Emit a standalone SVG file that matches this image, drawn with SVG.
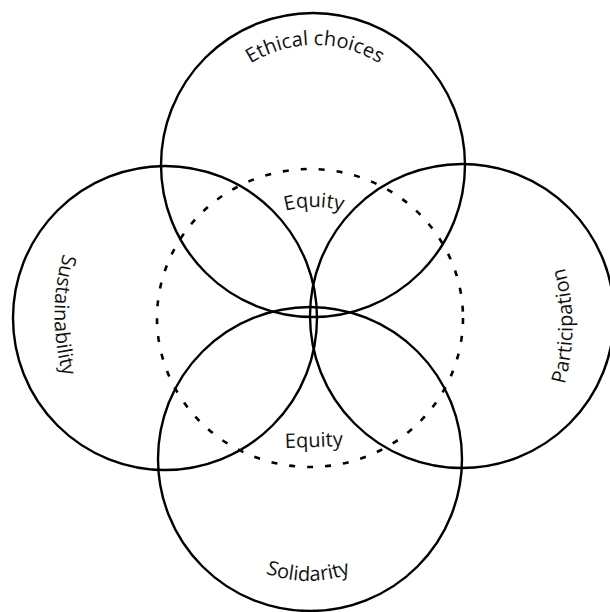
<svg xmlns="http://www.w3.org/2000/svg" width="610" height="612" viewBox="0 0 610 612">
  <style>
    .ring { fill: none; stroke: #000; stroke-width: 2.4; }
    .dash { fill: none; stroke: #000; stroke-width: 2.6; stroke-dasharray: 6 12; }
    .lbl { font-family: "Open Sans", "Noto Sans", "DejaVu Sans", sans-serif; font-size: 20px; fill: #111; }
  </style>
  <defs>
    <path id="p-top" d="M 195 165 A 120 120 0 0 1 435 165"/>
    <path id="p-bottom" d="M 186 459 A 122 122 0 0 0 430 459"/>
    <path id="p-left" d="M 84 205 A 220 220 0 0 0 84 425"/>
    <path id="p-right" d="M 543 436 A 220 220 0 0 0 543 216"/>
    <path id="p-eq-top" d="M 203 318 A 111 111 0 0 1 425 318"/>
  </defs>
  <rect width="610" height="612" fill="#fff"/>
  <g id="node-ethical-choices">
    <circle class="ring" cx="313" cy="165" r="152"/>
    <text class="lbl" text-anchor="middle"><textPath href="#p-top" startOffset="50%">Ethical choices</textPath></text>
  </g>
  <g id="node-sustainability">
    <circle class="ring" cx="165" cy="318" r="152"/>
    <text class="lbl" text-anchor="middle"><textPath href="#p-left" startOffset="50%">Sustainability</textPath></text>
  </g>
  <g id="node-participation">
    <circle class="ring" cx="462" cy="316" r="152"/>
    <text class="lbl" text-anchor="middle"><textPath href="#p-right" startOffset="50%">Participation</textPath></text>
  </g>
  <g id="node-solidarity">
    <circle class="ring" cx="310" cy="459" r="152"/>
    <text class="lbl" text-anchor="middle"><textPath href="#p-bottom" startOffset="50%">Solidarity</textPath></text>
  </g>
  <g id="node-equity">
    <ellipse class="dash" cx="310" cy="318" rx="153" ry="149"/>
    <text class="lbl" text-anchor="middle"><textPath href="#p-eq-top" startOffset="50%">Equity</textPath></text>
    <text class="lbl" x="314" y="447" text-anchor="middle" transform="rotate(-2 314 447)">Equity</text>
  </g>
  <g id="connectors"/>
</svg>
